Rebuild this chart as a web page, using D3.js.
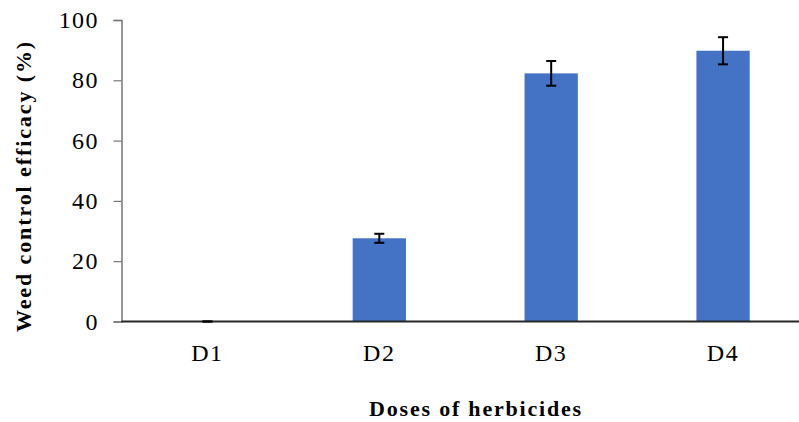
<!DOCTYPE html>
<html>
<head>
<meta charset="utf-8">
<script src="https://cdn.jsdelivr.net/npm/d3@7"></script>
<style>
  html, body { margin: 0; padding: 0; background: #fff; }
  svg { display: block; }
  text { font-family: "Liberation Serif", "DejaVu Serif", serif; fill: #000; }
</style>
</head>
<body>
<svg id="chart" width="799" height="422"></svg>
<script>
const categories = ["D1", "D2", "D3", "D4"];
const values = [0, 27.6, 82.3, 89.8];
const errors = [0, 1.5, 4.1, 4.5];
const yTicks = [0, 20, 40, 60, 80, 100];
const xTitle = "Doses of herbicides";
const yTitle = "Weed control efficacy (%)";

(function () {
const svg = d3.select("#chart");
const mLeft = 121.5, mBottom = 321.5, mTop = 20;

const x = d3.scaleBand().domain(categories).range([mLeft, 809]).paddingInner(0.69).paddingOuter(0.345);
const y = d3.scaleLinear().domain([0, 100]).range([mBottom, mTop]);

// y axis
const yAxis = d3.axisLeft(y).tickValues(yTicks).tickSize(8).tickPadding(16);
const yg = svg.append("g").attr("transform", `translate(${mLeft},0)`).call(yAxis);
yg.select(".domain").attr("stroke", "#767676").attr("stroke-width", 1.5);
yg.selectAll(".tick line").attr("stroke", "#767676").attr("stroke-width", 1.2);
yg.selectAll(".tick text").attr("font-size", 24).attr("font-family", "Liberation Serif, serif")
  .attr("fill", "#000").attr("letter-spacing", 1.4).attr("dx", 1.4);

// bars
svg.append("g").selectAll("rect").data(categories).join("rect")
  .attr("x", d => x(d))
  .attr("width", x.bandwidth())
  .attr("y", (d, i) => y(values[i]))
  .attr("height", (d, i) => y(0) - y(values[i]))
  .attr("fill", "#4472C4");

// x axis
const xAxis = d3.axisBottom(x).tickSize(0).tickPadding(22);
const xg = svg.append("g").attr("transform", `translate(0,${mBottom})`).call(xAxis);
xg.select(".domain").attr("stroke", "#262626").attr("stroke-width", 2).attr("d", `M${mLeft},0H799`);
xg.selectAll(".tick text").attr("font-size", 24).attr("font-family", "Liberation Serif, serif")
  .attr("fill", "#000").attr("letter-spacing", 1.6);

// error bars
const eg = svg.append("g").attr("stroke", "#000").attr("stroke-width", 2);
categories.forEach((c, i) => {
  const cx = x(c) + x.bandwidth() / 2;
  const y1 = y(values[i] + errors[i]), y2 = y(values[i] - errors[i]);
  eg.append("line").attr("x1", cx).attr("x2", cx).attr("y1", y1).attr("y2", y2);
  eg.append("line").attr("x1", cx - 5).attr("x2", cx + 5).attr("y1", y1).attr("y2", y1);
  eg.append("line").attr("x1", cx - 5).attr("x2", cx + 5).attr("y1", y2).attr("y2", y2);
});

// titles
svg.append("text").attr("x", 476).attr("y", 416).attr("text-anchor", "middle")
  .attr("font-size", 22).attr("font-weight", "bold").attr("letter-spacing", 1.8).text(xTitle);
svg.append("text").attr("transform", "translate(31,186) rotate(-90)").attr("text-anchor", "middle")
  .attr("font-size", 22).attr("font-weight", "bold").attr("letter-spacing", 1.9).text(yTitle);
})();
</script>
</body>
</html>
